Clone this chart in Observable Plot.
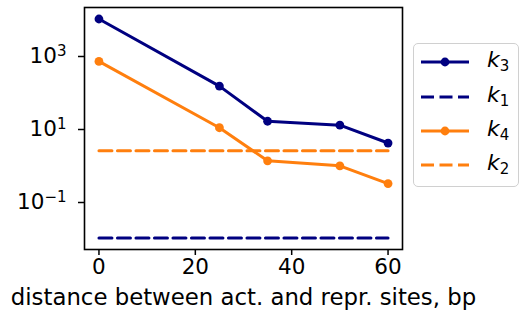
<!DOCTYPE html>
<html><head><meta charset="utf-8">
<script src="https://cdn.jsdelivr.net/npm/d3@7"></script>
<script src="https://cdn.jsdelivr.net/npm/@observablehq/plot@0.6"></script>
<style>
body{margin:0;background:#fff;font-family:"DejaVu Sans",sans-serif;}
#wrap{position:relative;width:519px;height:322px;overflow:hidden;}
#legend{position:absolute;left:413px;top:43px;width:106px;height:144px;border:1.3px solid #d0d0d0;border-radius:5px;background:#fff;box-sizing:border-box;}
.li{position:absolute;height:24px;}
.li svg{position:absolute;left:0;top:0;}
.li span{position:absolute;left:66px;top:-2px;font-size:22px;line-height:24px;font-style:italic;font-family:"DejaVu Sans",sans-serif;white-space:nowrap;}
.li sub{font-style:normal;font-size:15px;vertical-align:-4px;line-height:0;}
</style></head><body>
<div id="wrap"></div>
<script>
const distances = [0, 25, 35, 50, 60];
const k3 = [10000, 145, 15.8, 12.3, 4.0];
const k4 = [690, 10.5, 1.3, 0.95, 0.31];
const k1 = 0.01;
const k2 = 2.45;
const yTicks = [0.1, 10, 1000];
const xTicks = [0, 20, 40, 60];
const xLabel = "distance between act. and repr. sites, bp";
const navy = "#000080", orange = "#ff7f0e";
const dash = "13,5.5";

const s3 = distances.map((d,i)=>({x:d,y:k3[i]}));
const s4 = distances.map((d,i)=>({x:d,y:k4[i]}));
const s1 = [{x:0,y:k1},{x:60,y:k1}];
const s2 = [{x:0,y:k2},{x:60,y:k2}];

const chart = Plot.plot({
  width: 519, height: 322,
  marginLeft: 84, marginRight: 117, marginTop: 7, marginBottom: 73,
  style: {fontFamily: "DejaVu Sans, sans-serif", fontSize: "21.5px", color: "black", background: "white"},
  x: {domain: [-3, 63], ticks: xTicks, label: null},
  y: {type: "log", domain: [Math.pow(10,-2.315), Math.pow(10,4.315)], ticks: yTicks, label: null},
  marks: [
    Plot.lineY(s1, {x:"x", y:"y", stroke: navy, strokeWidth: 3, strokeDasharray: dash}),
    Plot.lineY(s2, {x:"x", y:"y", stroke: orange, strokeWidth: 3, strokeDasharray: dash}),
    Plot.lineY(s3, {x:"x", y:"y", stroke: navy, strokeWidth: 3}),
    Plot.dot(s3, {x:"x", y:"y", fill: navy, r: 4.4}),
    Plot.lineY(s4, {x:"x", y:"y", stroke: orange, strokeWidth: 3}),
    Plot.dot(s4, {x:"x", y:"y", fill: orange, r: 4.4}),
    Plot.axisX({ticks: xTicks, tickSize: 6, tickPadding: 3, tickFormat: d=>String(d), label: null, strokeWidth: 1.5}),
    Plot.axisY({ticks: yTicks, tickSize: 6, tickPadding: 12, dy: 1, tickFormat: d=>String(Math.round(Math.log10(d))), label: null, strokeWidth: 1.5}),
    Plot.frame({stroke: "black", strokeWidth: 1.6}),
    Plot.text([xLabel], {frameAnchor: "bottom", dy: 55.5, fontSize: 22.8, text: d=>d, fill: "black"})
  ]
});
document.getElementById("wrap").appendChild(chart);

// render y tick labels as 10^n with superscript
d3.select(chart).selectAll("g[aria-label='y-axis tick label'] text").each(function(){
  const t = d3.select(this);
  const e = t.text();
  t.text("");
  t.append("tspan").text("10");
  t.append("tspan").attr("dy","-7.5").attr("font-size","15px").text(e.replace("-", "\u2212"));
});

const wrap = document.getElementById("wrap");
const legBox = document.createElement("div");
legBox.id = "legend";
wrap.appendChild(legBox);

const items = [
  {name:"3", color:navy, dash:null, dot:true},
  {name:"1", color:navy, dash:dash, dot:false},
  {name:"4", color:orange, dash:null, dot:true},
  {name:"2", color:orange, dash:dash, dot:false}
];
const centers = [62, 97, 131, 165];
items.forEach((it,i)=>{
  const div = document.createElement("div");
  div.className = "li";
  div.style.left = "421px";
  div.style.top = (centers[i] - 12) + "px";
  const svg = d3.create("svg").attr("width",50).attr("height",24);
  svg.append("line").attr("x1",0).attr("x2",48).attr("y1",12).attr("y2",12)
    .attr("stroke",it.color).attr("stroke-width",3).attr("stroke-dasharray",it.dash);
  if (it.dot) svg.append("circle").attr("cx",24).attr("cy",12).attr("r",4.4).attr("fill",it.color);
  div.appendChild(svg.node());
  const sp = document.createElement("span");
  sp.innerHTML = "k<sub>"+it.name+"</sub>";
  div.appendChild(sp);
  wrap.appendChild(div);
});
</script>
</body></html>
